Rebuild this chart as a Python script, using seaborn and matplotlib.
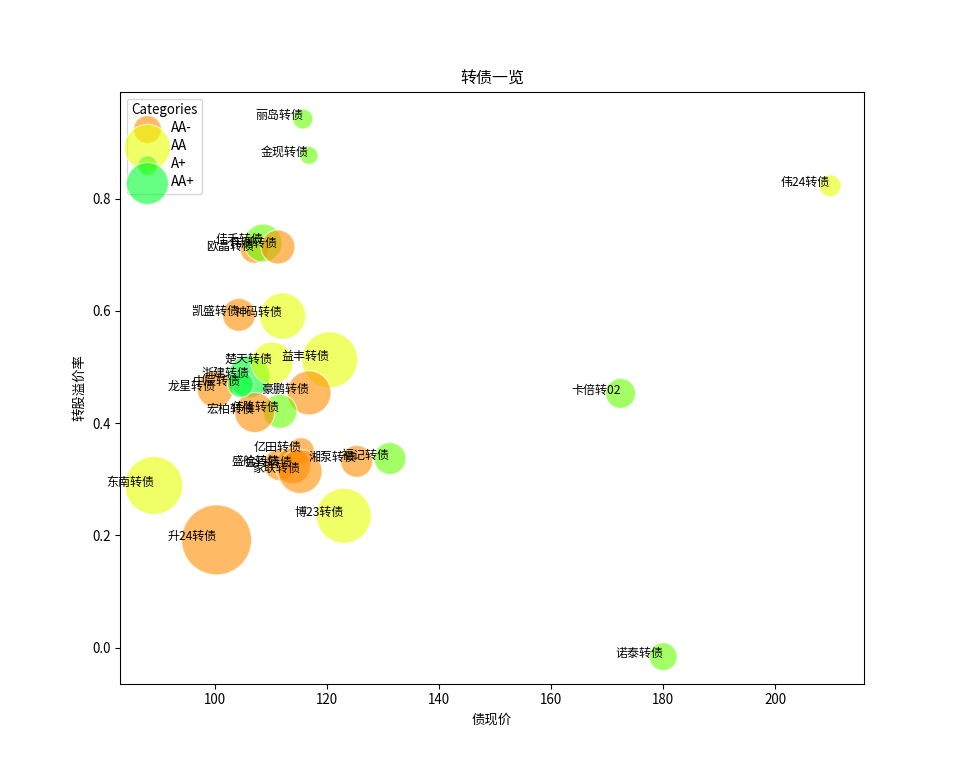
import matplotlib
matplotlib.use("Agg")
import matplotlib.pyplot as plt
import seaborn as sns
import pandas as pd

plt.rcParams['font.family'] = ['Noto Sans CJK SC', 'DejaVu Sans']
plt.rcParams['axes.unicode_minus'] = False

names = ["欧晶转债", "神码转债", "丽岛转债", "浙建转债",
         "金现转债", "伟24转债", "卡倍转02", "诺泰转债", "佳禾转债",
         "伟测转债", "凯盛转债", "益丰转债", "楚天转债", "豪鹏转债",
         "伟隆转债", "宏柏转债", "龙星转债", "中辰转债", "亿田转债",
         "盛航转债", "金丹转债", "家联转债", "湘泵转债", "福记转债",
         "东南转债", "升24转债", "博23转债"]
price = [107.0, 112.1, 115.7, 106.1,
         116.8, 209.8, 172.4, 180.0, 108.6,
         111.25, 104.3, 120.5, 110.2, 116.8,
         111.6, 107.1, 100.05, 104.6, 115.4,
         111.6, 113.9, 115.2, 125.3, 131.25,
         89.1, 100.3, 123.0]
premium = [0.710, 0.591, 0.942, 0.483,
           0.877, 0.823, 0.453, -0.016, 0.721,
           0.714, 0.593, 0.513, 0.507, 0.454,
           0.421, 0.419, 0.460, 0.469, 0.351,
           0.326, 0.324, 0.314, 0.332, 0.337,
           0.289, 0.192, 0.235]
bubble = [441, 1200, 225, 992,
          182, 272, 506, 441, 812,
          650, 612, 1764, 992, 1089,
          650, 900, 729, 380, 380,
          576, 729, 1089, 576, 576,
          1892, 2756, 1702]
rating = ["AA-", "AA", "A+", "AA+",
          "A+", "AA", "A+", "A+", "A+",
          "AA-", "AA-", "AA", "AA", "AA-",
          "A+", "AA-", "AA-", "AA+", "AA-",
          "AA-", "AA-", "AA-", "AA-", "A+",
          "AA", "AA-", "AA"]
categories = ["AA-", "AA", "A+", "AA+"]
colors = ["#FF8C00", "#E8FF00", "#66FF00", "#00FF33"]

df = pd.DataFrame({"name": names, "price": price, "premium": premium,
                   "bubble": bubble, "rating": rating})
palette = dict(zip(categories, colors))

fig, ax = plt.subplots(figsize=(10, 8), dpi=96)
smin, smax = min(bubble), max(bubble)
sns.scatterplot(data=df, x="price", y="premium", hue="rating", size="bubble",
                sizes=(smin, smax), size_norm=(smin, smax), palette=palette,
                hue_order=categories, alpha=0.6, edgecolor="white",
                linewidth=1, legend=False, ax=ax)

for _, r in df.iterrows():
    ax.text(r["price"], r["premium"], r["name"], ha="right", fontsize=9)

handles = []
first = df.groupby("rating").first()
for cat in categories:
    h = ax.scatter([], [], s=first.loc[cat, "bubble"], color=palette[cat],
                   alpha=0.6, edgecolors="white", label=cat)
    handles.append(h)
ax.legend(handles=handles, title="Categories", loc="upper left",
          labelspacing=0.3, borderpad=0.35, fontsize=10, title_fontsize=10)

ax.set_title("转债一览", fontsize=12)
ax.set_xlabel("债现价")
ax.set_ylabel("转股溢价率")
fig.savefig("out.png", dpi=96)
